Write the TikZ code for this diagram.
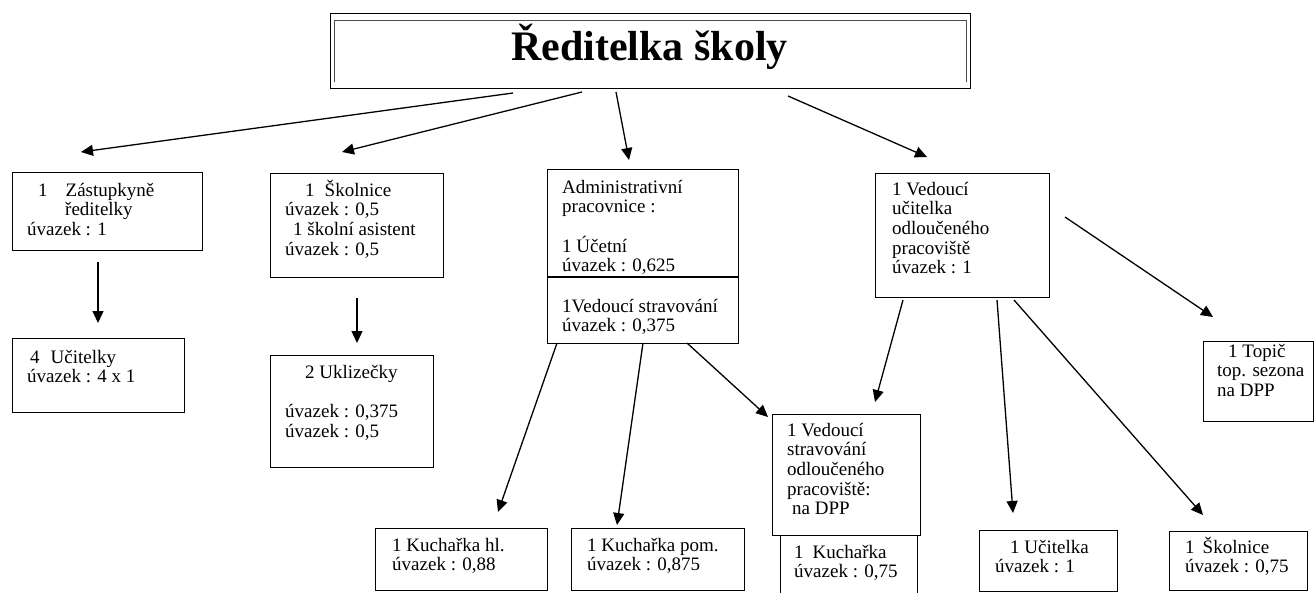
\documentclass[tikz,border=0pt]{standalone}
\usepackage{fontspec}
\setmainfont{Liberation Serif}
\usetikzlibrary{arrows.meta}
\newcommand\firstln{\rule{0pt}{18pt}}
\tikzset{
  box/.style={draw, line width=1.4pt, anchor=north west, inner sep=0pt},
  txt/.style={anchor=north west, inner sep=0pt, align=left, font=\fontsize{19}{19.6}\selectfont},
  arr/.style={line width=1.3pt, -{Triangle[length=12pt,width=11pt]}},
  innerframe/.style={line width=1pt, draw=black!70}
}
\begin{document}
\begin{tikzpicture}[x=1pt,y=-1pt]
\useasboundingbox (0,0) rectangle (1314,592);
% boxes
\node[box, minimum width=640pt, minimum height=75pt] (btop) at (330,13) {};
\node[box, minimum width=190pt, minimum height=78pt] (bzast) at (12,172) {};
\node[box, minimum width=172pt, minimum height=74pt] (bucit) at (12,338) {};
\node[box, minimum width=173pt, minimum height=104pt] (bskol) at (270,173) {};
\node[box, minimum width=163pt, minimum height=112pt] (bukl) at (270,355) {};
\node[box, minimum width=191pt, minimum height=174pt] (badm) at (547,169) {};
\node[box, minimum width=174pt, minimum height=124pt] (bved) at (875,173) {};
\node[box, minimum width=110pt, minimum height=80pt] (btopic) at (1203,341) {};
\node[box, minimum width=137pt, minimum height=62pt] (bkuch) at (780,535) {};
\node[box, minimum width=148pt, minimum height=121pt, fill=white] (bvso) at (772,414) {};
\node[box, minimum width=172pt, minimum height=62pt] (bkh) at (375,528) {};
\node[box, minimum width=173pt, minimum height=62pt] (bkp) at (571,528) {};
\node[box, minimum width=138pt, minimum height=61pt] (buc) at (979,530) {};
\node[box, minimum width=138pt, minimum height=59pt] (bsk) at (1169,531) {};
% inner frame of title box and divider of admin box
\draw[innerframe] ([shift={(4pt,7pt)}]btop.south west) -- ([shift={(4pt,-7pt)}]btop.north west)
  -- ([shift={(-5pt,-7pt)}]btop.north east) -- ([shift={(-5pt,7pt)}]btop.south east);
\draw[line width=1.4pt] ([yshift=-108pt]badm.north west) -- ([yshift=-108pt]badm.north east);
% texts
\node[anchor=base, inner sep=0pt, font=\fontsize{42}{44}\selectfont\bfseries] (title) at (649.5,60) {Ředitelka školy};
\node[txt] (tzast) at (27,178) {\firstln\hspace*{11pt}1\hspace*{18pt}Zástupkyně\\ \hspace*{38pt}ředitelky\\ úvazek : 1};
\node[txt] (tucit) at (27,345) {\firstln\hspace*{3pt}4\hspace*{11pt}Učitelky\\ úvazek : 4 x 1};
\node[txt] (tskol) at (285,178) {\firstln\hspace*{20pt}1\hspace*{10pt}Školnice\\ úvazek : 0,5\\ \hspace*{8pt}1 školní asistent\\ úvazek : 0,5};
\node[txt] (tukl) at (285,360) {\firstln\hspace*{20pt}2 Uklizečky\\ \mbox{}\\ úvazek : 0,375\\ úvazek : 0,5};
\node[txt] (tadma) at (562,175) {\firstln Administrativní\\ pracovnice :\\ \mbox{}\\ 1 Účetní\\ úvazek : 0,625};
\node[txt] (tadmb) at (562,294) {\firstln 1Vedoucí stravování\\ úvazek : 0,375};
\node[txt] (tved) at (892,177) {\firstln 1 Vedoucí\\ učitelka\\ odloučeného\\ pracoviště\\ úvazek : 1};
\node[txt] (ttopic) at (1217,339) {\firstln\hspace*{11pt}1 Topič\\ top. sezona\\ na DPP};
\node[txt] (tvso) at (787,418) {\firstln 1 Vedoucí\\ stravování\\ odloučeného\\ pracoviště:\\ \hspace*{5pt}na DPP};
\node[txt] (tkuch) at (794,540) {\firstln 1\hspace*{9pt}Kuchařka\\ úvazek : 0,75};
\node[txt] (tkh) at (392,533) {\firstln 1 Kuchařka hl.\\ úvazek : 0,88};
\node[txt] (tkp) at (587,533) {\firstln 1 Kuchařka pom.\\ úvazek : 0,875};
\node[txt] (tuc) at (995,535) {\firstln\hspace*{15pt}1 Učitelka\\ úvazek : 1};
\node[txt] (tsk) at (1185,535) {\firstln 1\hspace*{8pt}Školnice\\ úvazek : 0,75};
% arrow end points
\coordinate (s1) at (513,93);   \coordinate (e1) at (81,152);
\coordinate (s2) at (582,92);   \coordinate (e2) at (342,152);
\coordinate (s3) at (616,92);   \coordinate (e3) at (629,160);
\coordinate (s4) at (788,96);   \coordinate (e4) at (927,157);
\coordinate (s5) at (98,262);   \coordinate (e5) at (98,323);
\coordinate (s6) at (357,298);  \coordinate (e6) at (357,343);
\coordinate (s7) at (557,343);  \coordinate (e7) at (498,512);
\coordinate (s8) at (643,343);  \coordinate (e8) at (617,525);
\coordinate (s9) at (687,343);  \coordinate (e9) at (768,417);
\coordinate (s10) at (903,300); \coordinate (e10) at (875,402);
\coordinate (s11) at (997,300); \coordinate (e11) at (1013,513);
\coordinate (s12) at (1014,300);\coordinate (e12) at (1203,515);
\coordinate (s13) at (1065,217);\coordinate (e13) at (1213,317);
\foreach \i in {1,...,13} { \draw[arr] (s\i) -- (e\i); }
\end{tikzpicture}
\end{document}
